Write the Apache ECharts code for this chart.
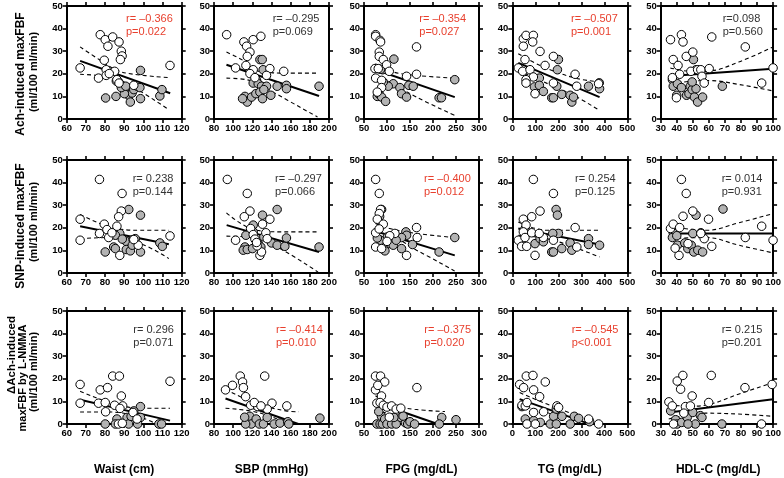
<!DOCTYPE html>
<html><head><meta charset="utf-8">
<script src="https://cdn.jsdelivr.net/npm/echarts@6/dist/echarts.min.js"></script>
<style>html,body{margin:0;padding:0;background:#fff}#c{width:784px;height:478px}</style>
</head><body><div id="c"></div>
<script>
// ---------- Column (x) variables ----------
const xTitles = ['Waist (cm)', 'SBP (mmHg)', 'FPG (mg/dL)', 'TG (mg/dL)', 'HDL-C (mg/dL)'];
const xMin = [60, 80, 50, 0, 30];
const xMax = [120, 200, 300, 500, 100];
const xStep = [10, 20, 50, 100, 10];
// ---------- Row (y) variables ----------
const yTitles = [
  ['Ach-induced maxFBF', '(ml/100 ml/min)'],
  ['SNP-induced maxFBF', '(ml/100 ml/min)'],
  ['\u0394Ach-induced', 'maxFBF by L-NMMA', '(ml/100 ml/min)']
];
const yMin = 0, yMax = 50, yStep = 10;

// ---------- Stats ----------
const statR = [
  ['r= \u20130.366', 'r= \u20130.295', 'r= \u20130.354', 'r= \u20130.507', 'r=0.098'],
  ['r= 0.238', 'r= \u20130.297', 'r= \u20130.400', 'r= 0.254', 'r= 0.014'],
  ['r= 0.296', 'r= \u20130.414', 'r= \u20130.375', 'r= \u20130.545', 'r= 0.215']
];
const statP = [
  ['p=0.022', 'p=0.069', 'p=0.027', 'p=0.001', 'p=0.560'],
  ['p=0.144', 'p=0.066', 'p=0.012', 'p=0.125', 'p=0.931'],
  ['p=0.071', 'p=0.010', 'p=0.020', 'p<0.001', 'p=0.201']
];
const statSig = [
  [1, 0, 1, 1, 0],
  [0, 0, 1, 0, 0],
  [0, 1, 1, 1, 0]
];

// ---------- Row 1: Ach-induced maxFBF ----------
const achWaistOpen = [[67,22.6],[77.5,37.3],[80.1,35.1],[84,36.3],[81.5,32.2],[87.3,34.1],[88.5,30],[88.9,27.9],[88,26.3],[79.6,26],[80.6,21.8],[85,21.1],[76.6,18.1],[80.6,19.3],[82.2,20.1],[86.2,17.4],[87.3,15.9],[113.9,23.7],[95,14.9]];
const achWaistGray = [[80.3,9.3],[85.7,10],[98.5,21.5],[91.5,13.9],[92.3,10.5],[93.2,7.5],[94.1,11.5],[95,13],[96.7,14.5],[98.2,13.9],[98.5,9],[108.6,10.2],[109.7,13],[90.1,11.2],[88.5,13.9],[87.1,16.4],[85.9,16.8],[90.8,14.5]];
const achWaistFit = [[67,25.7],[114,11.4]];
const achWaistHi = [[67,31.9],[77.5,26],[86.2,21.5],[95,19.8],[113.3,18.3]];
const achWaistLo = [[67,19.8],[77,19.2],[84.5,18.3],[95,14],[112.5,4.6]];

const achSbpOpen = [[93.2,37.3],[111.2,34.1],[114,32.2],[117.5,29.6],[114.7,27.7],[120.9,35.1],[128.9,36.6],[113.3,23.7],[102.5,22.6],[120.9,21.8],[117.5,20.1],[122.7,18.3],[138.3,22.3],[152.8,21.1],[134.8,19.3]];
const achSbpGray = [[127.9,26.3],[130.3,26.3],[131.3,21.8],[124.4,17.1],[120.9,15.9],[126.1,15.6],[129.6,14.5],[134.8,14.5],[145.9,14.5],[155.6,14.9],[155.6,13.4],[189.6,14.5],[112.3,10],[114.7,7.5],[119.2,9.7],[123.7,11.2],[127.9,11.9],[130.6,9],[139.3,10.5],[109.8,9],[132,13]];
const achSbpFit = [[93,24],[189.6,10.2]];
const achSbpHi = [[93,29.6],[110,26],[124.4,21.5],[140,20.5],[152,20.3],[188,20.3]];
const achSbpLo = [[93,18.1],[114,17.4],[127,15.5],[141.7,11.9],[188,0.9]];

const achFpgOpen = [[75.3,37.3],[75.3,36.6],[84.7,34.8],[86.1,34.1],[83.2,29.6],[83.2,27.7],[91.9,26.3],[75.3,18.1],[73.8,22.3],[81,22.3],[99.1,24],[104.9,21.1],[142.5,18.9],[164.2,31.9],[164.2,19.8],[88.3,17.1],[88.3,13.9],[78.9,11.9]];
const achFpgGray = [[78.9,10],[83.2,10.9],[88.3,9.7],[97,7.8],[115,26.5],[113.6,15.6],[102.7,14.5],[128,13.9],[131.6,11.2],[142.5,9.7],[147.5,14.9],[157,14.5],[213.3,9.4],[218.4,9.4],[247.3,17.4],[91.9,16.4],[90.5,21.8],[86,22]];
const achFpgFit = [[75.3,21.8],[247.3,9.7]];
const achFpgHi = [[75,24.5],[106,21.2],[164,19.3],[247,18.1]];
const achFpgLo = [[75,19.1],[106,16.4],[164,9.7],[247,1.6]];

const achTgOpen = [[26.2,22.6],[48,35.5],[59.6,37],[48,32.2],[91.6,37],[88.7,34.1],[120.6,29.9],[55.2,26.3],[142.4,23.7],[178.8,27.7],[45,21.1],[77,21.8],[91.6,18.6],[59.6,17.4],[59.6,15.9],[98.8,11.2],[178.8,15.9],[273,19.8],[280,14.5],[375,15.6]];
const achTgGray = [[200.6,26.3],[196.2,21.8],[193.3,14.5],[117.7,18.1],[96,14.2],[117.7,14.9],[135,12.2],[171.5,9.4],[178.8,9.4],[215,10.9],[251.5,10.5],[258.7,7.5],[266,9.7],[331.4,14.5],[379.4,13.4],[378,16]];
const achTgFit = [[26,24.8],[379.4,9.7]];
const achTgHi = [[26,28.9],[121,23.7],[266,18.3],[379,16.4]];
const achTgLo = [[26,21.5],[121,17.1],[266,10.5],[379,3.8]];

const achHdlOpen = [[36.1,35.1],[42.9,37.3],[43.9,34.1],[37.8,26.3],[40.8,23.7],[45.9,27.7],[50,29.6],[61.8,36.3],[82.7,31.9],[100,22.6],[92.9,15.9],[41.8,19.8],[48.8,21.1],[53,21.8],[55,21.8],[55.7,18.9],[57.1,15.9],[60.2,22.3],[37.3,18.3],[39.8,9.4]];
const achHdlGray = [[50.4,26.3],[52,21.8],[37.3,17.4],[37.8,14.5],[40.4,15.6],[40,10.5],[42.9,13.9],[46.1,10.5],[47.6,11.2],[48.4,14.5],[49.6,13],[51,9.7],[52,13.4],[53,7.5],[56.1,9.7],[68.4,14.5],[49.6,16.4]];
const achHdlFit = [[36.1,19],[100,22.2]];
const achHdlHi = [[36,22.6],[50,21],[60,21.2],[78.6,25.2],[100,31.9]];
const achHdlLo = [[36,15.5],[50,16.8],[60,17],[78.6,15.3],[100,12.4]];

// ---------- Row 2: SNP-induced maxFBF ----------
const snpWaistOpen = [[77.1,41.4],[88.9,35.2],[67,23.8],[67,14.5],[88.5,27.4],[87.1,24.9],[79.6,21.6],[77.1,17.5],[81,19.2],[86.2,20.7],[81.9,15.7],[87.7,7.8],[97.3,12.3],[113.9,16.4],[83.6,17.8],[95,14.8]];
const snpWaistGray = [[92.4,28.1],[98.5,25.6],[80.1,9.3],[84.5,11.5],[85.4,10.8],[87.7,17.5],[85.4,16.7],[91,14],[91.1,10.4],[93.2,9.8],[94.6,14.8],[95.8,15.2],[98.5,9.3],[94.2,12.3],[108.6,13.3],[109.9,11.8],[89,15]];
const snpWaistFit = [[67,20.7],[113.3,12.7]];
const snpWaistHi = [[67,25.9],[82.7,20.4],[98.5,18.9],[113.3,18.9]];
const snpWaistLo = [[67,15.2],[82.7,15.7],[98.5,13],[113.3,6.4]];

const snpSbpOpen = [[93.9,41.4],[114.7,35.2],[117.5,27.4],[111.6,24.9],[102.5,14.5],[138.3,23.8],[130.6,21.6],[118.2,19.7],[134.1,17.8],[127.9,7.8],[129.6,9.3],[125,12],[120.9,17],[122.7,15],[124.4,13.5],[135.5,15.2]];
const snpSbpGray = [[130.6,25.6],[145.9,28.1],[120.9,21.2],[120.9,18.2],[113.3,16.7],[112.3,11.5],[110.5,10.1],[114.7,10.4],[120.2,10.8],[126.1,13],[128.9,11.5],[140,13.3],[145.9,12.3],[153.9,11.8],[155.6,15.5],[189.6,11.5],[132,16]];
const snpSbpFit = [[93.2,21.2],[189.6,9.3]];
const snpSbpHi = [[93,26.6],[124.4,18.9],[152,18.2],[188.6,18.2]];
const snpSbpLo = [[93,16.3],[124.4,15.7],[152,10.1],[188.6,0.4]];

const snpFpgOpen = [[75.3,41.4],[83.2,35.2],[86.1,28.1],[83.2,26.3],[78.9,23.8],[91.9,21.6],[75.3,17.8],[75.3,11.5],[88.3,10.8],[164.2,20.1],[165.6,15.7],[142.5,7.8],[117.2,17.5],[106,16.5],[83,19.5],[100,14]];
const snpFpgGray = [[88.3,28.1],[84,25],[86.1,14.5],[79,15.5],[95.5,9.8],[106.4,13],[113.6,12.3],[131.6,10.8],[141.1,18.2],[142.5,16.7],[155.5,12.6],[213.3,9.3],[247.3,15.7],[101,16],[131.6,15.7],[120,14.5]];
const snpFpgFit = [[75.3,18.5],[247.3,7.8]];
const snpFpgHi = [[75,21.9],[106,19.7],[164,17.5],[247,15.7]];
const snpFpgLo = [[75,15.2],[106,15.7],[164,10.1],[247,0.9]];

const snpTgOpen = [[91.6,41.4],[178.8,35.2],[120.6,27.4],[84.3,24.9],[48,23.8],[59.6,21.2],[48,18.2],[26.2,14.5],[40.7,11.8],[62.5,11.8],[98.8,7.8],[55.2,15.7],[84.3,17.8],[135.2,15.7],[178.8,14.5],[273.3,20.1],[280.5,11.5],[117,17.5]];
const snpTgGray = [[190.4,28.1],[196.2,25.6],[200.6,17.5],[175.9,17.5],[98.8,13],[120.6,15.2],[135.2,13.8],[171.5,9.3],[178.8,9.3],[215.1,10.8],[251.5,13.3],[258.7,10.1],[331.4,15.2],[331.4,12.6],[379.4,12.3],[55,19.5]];
const snpTgFit = [[26,19.7],[379.4,12.6]];
const snpTgHi = [[26,22.6],[150,18.9],[266,18.9],[379,18.9]];
const snpTgLo = [[26,16.7],[150,15.2],[266,11.5],[379,7.1]];

const snpHdlOpen = [[42.9,41.4],[45.9,35.2],[43.9,25.1],[50,27.4],[59.8,23.8],[61.8,11.8],[82.7,15.7],[92.9,20.7],[100,14.5],[36.1,19.7],[37.8,21.6],[41.8,20.1],[41.4,7.8],[39,11],[57.1,15.2],[55,17.5],[47,13]];
const snpHdlGray = [[52,25.6],[68.8,28.3],[50,17.5],[55,17.8],[37.8,17.8],[37.3,15.7],[40.4,12.3],[45,13.3],[46.9,10.8],[49,12.3],[50.6,9.3],[53.1,10.1],[56.1,9.3],[40,16.5]];
const snpHdlFit = [[36.1,17.5],[100,17.5]];
const snpHdlHi = [[36,20.7],[58.2,18.9],[78.6,22.2],[100,26.3]];
const snpHdlLo = [[36,15.2],[58.2,15.7],[78.6,12.3],[100,8.9]];

// ---------- Row 3: ΔAch-induced maxFBF by L-NMMA ----------
const dachWaistOpen = [[67,17.5],[67,9.2],[77.5,15.1],[81.3,16.1],[84,21.2],[87.5,21.2],[113.9,18.9],[76.6,9.2],[80.1,9.5],[80.3,5.4],[88.5,12.4],[89.2,8],[85,8.3],[87.8,6.9],[94.6,5.1],[96.7,2.2],[87,0],[89,0.3]];
const dachWaistGray = [[98.5,7.7],[95,5.8],[91.5,2.9],[86.2,2.2],[80.1,0],[85.4,0],[92.3,0],[98.5,2.9],[97,0],[108.1,0],[109.5,0],[93.6,3.4]];
const dachWaistFit = [[67,10.7],[113.9,1.5]];
const dachWaistHi = [[67,14.5],[82.7,9.5],[98.5,7],[113.9,7]];
const dachWaistLo = [[67,5.3],[82.7,5.3],[98.5,2.9],[107,0]];

const dachSbpOpen = [[92,15.1],[99.3,17.1],[107.4,21.2],[109.8,18.6],[110.7,16.1],[113,12.1],[132.9,21.2],[118.3,8.3],[125.6,7.7],[140.5,9.2],[156,8],[135.5,6.6],[122,9.5],[129,8]];
const dachSbpGray = [[117.4,3.4],[119,0],[124,2.2],[127.3,0],[131.6,0],[135.5,2.9],[142.8,0],[148.8,0.4],[157,1],[158,0],[190.5,2.6],[113,0],[112,3]];
const dachSbpFit = [[92,11.3],[168,0]];
const dachSbpHi = [[92,15.4],[122,9.5],[155,5.8],[168.6,5.4]];
const dachSbpLo = [[92,7],[125.6,5.1],[158.7,0]];

const dachFpgOpen = [[75,21.2],[86,21.2],[75,15.1],[95,18.6],[80,17.1],[88,12.4],[78,9.2],[85,9.5],[92,8.3],[100,7.5],[110,8],[120,6.6],[165,16.1],[130,7],[105,3]];
const dachFpgGray = [[78,0],[85,0],[90,0],[88,3.4],[95,2.2],[100,0],[110,0],[120,0],[130,2.9],[140,0.5],[145,0],[150,1],[160,0],[219,2.9],[213.7,0],[250,1.9],[82,5.5],[115,2.9],[135,3.5]];
const dachFpgFit = [[75,9.5],[210,0]];
const dachFpgHi = [[75,12.5],[110,8.5],[160,6.5],[226,5.5]];
const dachFpgLo = [[75,6.5],[110,4],[160,0.5],[170,0]];

const dachTgOpen = [[31.9,17.5],[60.9,21.2],[89.8,21.5],[49.3,16.1],[92.7,15.1],[143.5,18.6],[118.8,12.1],[42,8.3],[56.5,8],[63.8,9.5],[92.7,5.1],[136.2,5.4],[194.2,8],[201.4,7.3],[63.8,0],[100,0],[375.3,0],[331.8,2.2]];
const dachTgGray = [[42,7.7],[56.5,2.2],[92.7,1.5],[121.7,0.7],[165.2,0],[179.7,3.4],[191.3,0],[215.9,3.4],[252,0],[269.5,3.4],[288.4,2.5],[336.2,1],[191.3,6.6]];
const dachTgFit = [[32,11],[325,0.4]];
const dachTgHi = [[32,13.9],[151,8.8],[281,3.9],[353,2.2]];
const dachTgLo = [[32,8],[151,5.1],[252,0]];

const dachHdlOpen = [[40.3,19],[43.8,21.5],[42.4,15.4],[61.5,21.5],[82.5,16.1],[99.4,17.5],[92.8,0],[49.6,12.4],[35.1,9.8],[37.2,8],[45.4,7.7],[48.5,8],[59.9,9.5],[44.4,4.8],[38,0]];
const dachHdlGray = [[36.2,5.8],[39.3,1.9],[40.3,0],[43,0.7],[46.5,2.9],[50,5.1],[51.6,0],[54.7,3.7],[55.7,2.9],[68.1,0],[47,0]];
const dachHdlFit = [[35.1,5.1],[100,11]];
const dachHdlHi = [[35,8.3],[50,7.9],[62,9],[78.4,13.2],[100,18.3]];
const dachHdlLo = [[35,2.2],[57.8,4.8],[78.4,4.4],[100,3.4]];

const panels = [
  [[achWaistOpen, achWaistGray, achWaistFit, achWaistHi, achWaistLo],
   [achSbpOpen, achSbpGray, achSbpFit, achSbpHi, achSbpLo],
   [achFpgOpen, achFpgGray, achFpgFit, achFpgHi, achFpgLo],
   [achTgOpen, achTgGray, achTgFit, achTgHi, achTgLo],
   [achHdlOpen, achHdlGray, achHdlFit, achHdlHi, achHdlLo]],
  [[snpWaistOpen, snpWaistGray, snpWaistFit, snpWaistHi, snpWaistLo],
   [snpSbpOpen, snpSbpGray, snpSbpFit, snpSbpHi, snpSbpLo],
   [snpFpgOpen, snpFpgGray, snpFpgFit, snpFpgHi, snpFpgLo],
   [snpTgOpen, snpTgGray, snpTgFit, snpTgHi, snpTgLo],
   [snpHdlOpen, snpHdlGray, snpHdlFit, snpHdlHi, snpHdlLo]],
  [[dachWaistOpen, dachWaistGray, dachWaistFit, dachWaistHi, dachWaistLo],
   [dachSbpOpen, dachSbpGray, dachSbpFit, dachSbpHi, dachSbpLo],
   [dachFpgOpen, dachFpgGray, dachFpgFit, dachFpgHi, dachFpgLo],
   [dachTgOpen, dachTgGray, dachTgFit, dachTgHi, dachTgLo],
   [dachHdlOpen, dachHdlGray, dachHdlFit, dachHdlHi, dachHdlLo]]
];

// ---------- Layout ----------
const FONT = '"Liberation Sans", Arial, Helvetica, sans-serif';
const colLeft = [66.7, 214, 364, 512.3, 660.7];
const rowTop = [6, 160, 311];
const PW = 115, PH = 113;
const statX = [
  [126, 272.7, 419.3, 571, 722.7],
  [132.7, 275, 424, 575, 721.7],
  [133.3, 276, 424.3, 571.7, 721.7]
];
const statY = [13, 173, 324];
const RED = '#e8402e', DARK = '#333333';

const grid = [], xAxis = [], yAxis = [], series = [], graphic = [];
const axisBase = {
  axisLine: { onZero: false, lineStyle: { color: '#000', width: 2 } },
  axisTick: { show: true, inside: false, length: 4, lineStyle: { color: '#000', width: 1.6 } },
  splitLine: { show: false }
};
const labelStyle = { color: '#000', fontSize: 9.5, fontWeight: 'bold', fontFamily: FONT };

for (let r = 0; r < 3; r++) {
  for (let c = 0; c < 5; c++) {
    const g = r * 5 + c;
    grid.push({ left: colLeft[c], top: rowTop[r], width: PW, height: PH, containLabel: false });
    xAxis.push(Object.assign({ gridIndex: g, type: 'value', position: 'bottom', min: xMin[c], max: xMax[c], interval: xStep[c],
      axisLabel: Object.assign({ margin: 4 }, labelStyle) }, axisBase));
    xAxis.push(Object.assign({ gridIndex: g, type: 'value', position: 'top', min: xMin[c], max: xMax[c], interval: xStep[c],
      axisLabel: { show: false } }, axisBase));
    yAxis.push(Object.assign({ gridIndex: g, type: 'value', position: 'left', min: yMin, max: yMax, interval: yStep,
      axisLabel: Object.assign({ margin: 4 }, labelStyle) }, axisBase));
    yAxis.push(Object.assign({ gridIndex: g, type: 'value', position: 'right', min: yMin, max: yMax, interval: yStep,
      axisLabel: { show: false } }, axisBase));
    const [open, gray, fit, hi, lo] = panels[r][c];
    const ax = { xAxisIndex: 2 * g, yAxisIndex: 2 * g };
    const dashed = { color: '#000', width: 1.1, type: [4, 3] };
    series.push(Object.assign({ type: 'line', data: hi, symbol: 'none', smooth: 0.4, lineStyle: dashed, silent: true, z: 2 }, ax));
    series.push(Object.assign({ type: 'line', data: lo, symbol: 'none', smooth: 0.4, lineStyle: dashed, silent: true, z: 2 }, ax));
    series.push(Object.assign({ type: 'line', data: fit, symbol: 'none', lineStyle: { color: '#000', width: 2 }, silent: true, z: 2 }, ax));
    series.push(Object.assign({ type: 'scatter', data: gray, symbol: 'circle', symbolSize: 8.5,
      itemStyle: { color: '#b3b3b3', borderColor: '#000', borderWidth: 1, opacity: 1 }, silent: true, z: 3 }, ax));
    series.push(Object.assign({ type: 'scatter', data: open, symbol: 'circle', symbolSize: 8.5,
      itemStyle: { color: '#ffffff', borderColor: '#000', borderWidth: 1, opacity: 1 }, silent: true, z: 3 }, ax));
    graphic.push({ type: 'text', x: statX[r][c], y: statY[r], silent: true,
      style: { text: statR[r][c] + '\n' + statP[r][c], fill: statSig[r][c] ? RED : DARK,
        fontSize: 11, fontFamily: FONT, lineHeight: 12.5, align: 'left', verticalAlign: 'top' } });
  }
}
// x axis titles
for (let c = 0; c < 5; c++) {
  graphic.push({ type: 'text', x: colLeft[c] + PW / 2, y: 470, silent: true,
    style: { text: xTitles[c], fill: '#000', fontSize: 12, fontWeight: 'bold', fontFamily: FONT, align: 'center', verticalAlign: 'middle' } });
}
// y axis titles (rotated)
const yTitlePos = [
  [[20.8, 74, 12], [34, 72, 11]],
  [[20.8, 226, 12], [34, 222, 11]],
  [[11.7, 355, 11.5], [22.7, 378, 11], [34, 372, 11]]
];
for (let r = 0; r < 3; r++) {
  yTitles[r].forEach((t, i) => {
    const [x, y, fs] = yTitlePos[r][i];
    graphic.push({ type: 'text', x: x, y: y, rotation: Math.PI / 2, silent: true,
      style: { text: t, fill: '#000', fontSize: fs, fontWeight: 'bold', fontFamily: FONT, align: 'center', verticalAlign: 'middle' } });
  });
}

const chart = echarts.init(document.getElementById('c'));
chart.setOption({ animation: false, backgroundColor: '#fff', grid, xAxis, yAxis, series, graphic });
</script>
</body></html>
